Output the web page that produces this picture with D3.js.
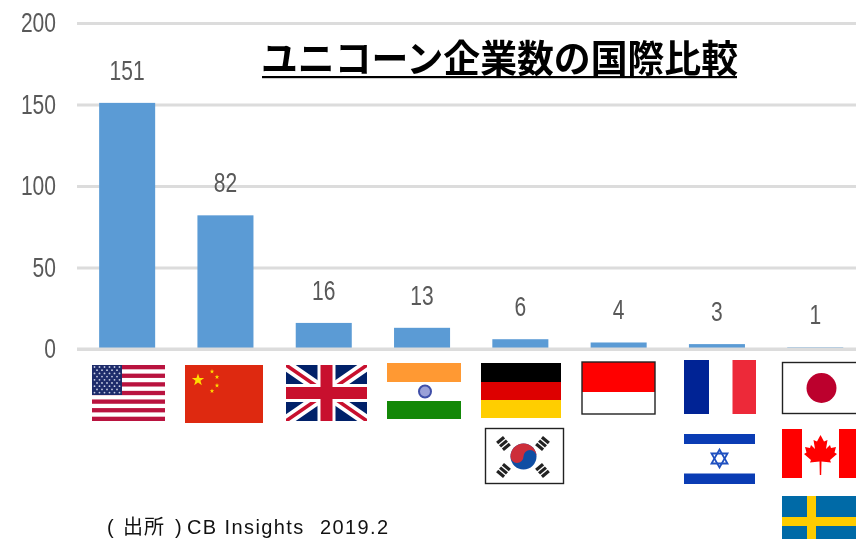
<!DOCTYPE html>
<html lang="ja">
<head>
<meta charset="utf-8">
<script src="https://cdn.jsdelivr.net/npm/d3@7"></script>
<style>
  html, body { margin: 0; padding: 0; background: #fff; overflow: hidden; }
  svg { display: block; filter: blur(0.45px); }
  .axis path { display: none; }
  .axis line, .base { stroke: #dcdcdc; stroke-width: 3; }
  .axis text, .cifras { font-family: "Liberation Sans", sans-serif; font-size: 27px; fill: #595959; }
  .cifras { text-anchor: middle; }
  .titulo { font-family: "Noto Sans CJK JP", sans-serif; font-weight: 700; font-size: 37.5px; fill: #000; }
  .fuente { font-family: "Liberation Sans", sans-serif; font-size: 20px; fill: #111; letter-spacing: 1.4px; }
  .fuente .cjk { font-family: "Noto Sans CJK JP", sans-serif; letter-spacing: 0.9px; }
</style>
</head>
<body>
<div id="chart-area"></div>
<script>
// datos
var countries = ["US", "CN", "GB", "IN", "DE", "ID", "FR", "JP"];
var counts = [151, 82, 16, 13, 6, 4, 3, 1];
var yTicks = [0, 50, 100, 150, 200];
var titleText = "ユニコーン企業数の国際比較";

var width = 856, height = 539;
var margin = {top: 23, right: 0, bottom: 190, left: 77};
var plotH = height - margin.top - margin.bottom;
var digitWidth = 11.7; // los numeros del original son estrechos

var xScale = d3.scaleBand()
    .domain(countries)
    .range([78, 78 + 98.3 * countries.length])
    .paddingInner(0.43)
    .paddingOuter(0.215);

var yScale = d3.scaleLinear()
    .domain([0, 200])
    .range([margin.top + plotH, margin.top]);

var svg = d3.select("#chart-area").append("svg")
    .attr("width", width)
    .attr("height", height);

// Eje con rejilla
var leftAxis = d3.axisLeft(yScale)
    .tickValues(yTicks)
    .tickSize(-(width - margin.left))
    .tickPadding(21);

svg.append("g")
    .attr("class", "axis")
    .attr("transform", "translate(" + margin.left + ",0)")
    .call(leftAxis)
    .selectAll("text")
    .attr("textLength", function(d) { return String(d).length * digitWidth; })
    .attr("lengthAdjust", "spacingAndGlyphs");

// Barras
svg.selectAll("rect.barra")
    .data(counts)
    .enter()
    .append("rect")
    .attr("class", "barra")
    .attr("x", function(d, i) { return xScale(countries[i]); })
    .attr("y", function(d) { return yScale(d); })
    .attr("width", xScale.bandwidth())
    .attr("height", function(d) { return yScale(0) - yScale(d); })
    .attr("fill", "#5b9bd5");

// La linea del 0 va por encima de las barras
svg.append("line")
    .attr("class", "base")
    .attr("x1", margin.left)
    .attr("x2", width)
    .attr("y1", yScale(0))
    .attr("y2", yScale(0));

// Cifras
svg.selectAll(".cifras")
    .data(counts)
    .enter()
    .append("text")
    .attr("class", "cifras")
    .text(function(d) { return d; })
    .attr("x", function(d, i) { return xScale(countries[i]) + xScale.bandwidth() / 2; })
    .attr("y", function(d) { return yScale(d) - 23; })
    .attr("textLength", function(d) { return String(d).length * digitWidth; })
    .attr("lengthAdjust", "spacingAndGlyphs");

// Titulo y fuente
svg.append("text")
    .attr("class", "titulo")
    .attr("x", 261)
    .attr("y", 72)
    .attr("textLength", 477)
    .attr("lengthAdjust", "spacingAndGlyphs")
    .text(titleText);
svg.append("rect")
    .attr("x", 262).attr("y", 76).attr("width", 475).attr("height", 2.2)
    .attr("fill", "#000");

var fuente = svg.append("text").attr("class", "fuente").attr("y", 534);
fuente.append("tspan").attr("x", 107).text("(");
fuente.append("tspan").attr("x", 123).attr("class", "cjk").text("出所");
fuente.append("tspan").attr("x", 175).text(")");
fuente.append("tspan").attr("x", 187).text("CB Insights");
fuente.append("tspan").attr("x", 320).text("2019.2");

// Banderas
var clipId = 0;
function flag(x, y, w, h) {
    var id = "clip" + (clipId++);
    svg.append("clipPath").attr("id", id)
        .append("rect").attr("width", w).attr("height", h);
    var outer = svg.append("g").attr("transform", "translate(" + x + "," + y + ")");
    var g = outer.append("g").attr("clip-path", "url(#" + id + ")");
    g.box = function(rx, ry, rw, rh, fill) {
        return g.append("rect").attr("x", rx).attr("y", ry).attr("width", rw).attr("height", rh).attr("fill", fill);
    };
    g.frame = function() {
        outer.append("rect").attr("width", w).attr("height", h)
            .attr("fill", "none").attr("stroke", "#222").attr("stroke-width", 1.4);
    };
    return g;
}

function starPath(cx, cy, r) {
    var pts = d3.range(10).map(function(i) {
        var a = -Math.PI / 2 + i * Math.PI / 5, rr = i % 2 ? r * 0.4 : r;
        return [cx + rr * Math.cos(a), cy + rr * Math.sin(a)];
    });
    return "M" + pts.join("L") + "Z";
}

// USA
(function() {
    var w = 73, h = 56, g = flag(92, 365, w, h);
    g.box(0, 0, w, h, "#fff");
    d3.range(13).forEach(function(i) {
        if (i % 2 == 0) g.box(0, i * h / 13, w, h / 13, "#b9133f");
    });
    g.box(0, 0, 30, 30, "#1e2c6b");
    d3.range(9).forEach(function(r) {
        d3.range(r % 2 ? 5 : 6).forEach(function(c) {
            g.append("circle").attr("cx", (r % 2 ? 5 : 2.5) + c * 5).attr("cy", 2 + r * 3.2)
                .attr("r", 0.9).attr("fill", "#c9cfe4");
        });
    });
})();

// China
(function() {
    var g = flag(185, 365, 78, 58);
    g.box(0, 0, 78, 58, "#de2910");
    g.append("path").attr("d", starPath(13, 15, 6.5)).attr("fill", "#ffde00");
    [[27, 6.5], [32, 12], [32, 20.5], [27, 26]].forEach(function(p) {
        g.append("path").attr("d", starPath(p[0], p[1], 2.4)).attr("fill", "#ffde00");
    });
})();

// Reino Unido
(function() {
    var w = 81, h = 56, g = flag(286, 365, w, h);
    g.box(0, 0, w, h, "#012169");
    var diag = "M0,0L" + w + "," + h + "M" + w + ",0L0," + h;
    g.append("path").attr("d", diag).attr("stroke", "#fff").attr("stroke-width", 11);
    g.append("path").attr("d", diag).attr("stroke", "#c8102e").attr("stroke-width", 3.5);
    g.box(w / 2 - 9, 0, 18, h, "#fff");
    g.box(0, h / 2 - 9, w, 18, "#fff");
    g.box(w / 2 - 6, 0, 12, h, "#c8102e");
    g.box(0, h / 2 - 6, w, 12, "#c8102e");
})();

// India
(function() {
    var w = 74, h = 56, g = flag(387, 363, w, h);
    g.box(0, 0, w, 19, "#ff9933");
    g.box(0, 19, w, 19, "#fff");
    g.box(0, 38, w, 18, "#138808");
    g.append("circle").attr("cx", 38).attr("cy", 28.5).attr("r", 6)
        .attr("fill", "#9aa0d8").attr("stroke", "#3f4ea8").attr("stroke-width", 2);
})();

// Alemania
(function() {
    var w = 80, h = 55, g = flag(481, 363, w, h);
    g.box(0, 0, w, 19, "#000");
    g.box(0, 19, w, 18, "#dd0000");
    g.box(0, 37, w, 18, "#ffce00");
})();

// Indonesia
(function() {
    var w = 73, h = 52, g = flag(582, 362, w, h);
    g.box(0, 0, w, h, "#fff");
    g.box(0, 0, w, 30, "#ff0000");
    g.frame();
})();

// Francia
(function() {
    var w = 72, h = 54, g = flag(684, 360, w, h);
    g.box(0, 0, w, h, "#fff");
    g.box(0, 0, 25, h, "#002395");
    g.box(48.5, 0, 23.5, h, "#ed2939");
})();

// Japon
(function() {
    var w = 76, h = 51, g = flag(782.5, 362.5, w, h);
    g.box(0, 0, w, h, "#fff");
    g.append("circle").attr("cx", 39).attr("cy", 25.5).attr("r", 15).attr("fill", "#bc002d");
    g.frame();
})();

// Corea
(function() {
    var w = 78, h = 55, g = flag(485.5, 428.5, w, h);
    g.box(0, 0, w, h, "#fff");
    var cx = 38, cy = 28, r = 13;
    g.append("circle").attr("cx", cx).attr("cy", cy).attr("r", r).attr("fill", "#0f4ea3");
    g.append("path")
        .attr("d", "M" + (cx - r) + "," + cy + "A" + r + "," + r + " 0 0 1 " + (cx + r) + "," + cy
            + "A" + (r / 2) + "," + (r / 2) + " 0 0 0 " + cx + "," + cy
            + "A" + (r / 2) + "," + (r / 2) + " 0 0 1 " + (cx - r) + "," + cy + "Z")
        .attr("fill", "#cd2e3a");
    [[18, 15, -40], [57, 15, 40], [18, 42, 40], [57, 42, -40]].forEach(function(t) {
        var tri = g.append("g").attr("transform", "translate(" + t[0] + "," + t[1] + ") rotate(" + t[2] + ")");
        [-4.5, 0, 4.5].forEach(function(dy) {
            tri.append("rect").attr("x", -4.5).attr("y", dy - 1.6).attr("width", 9).attr("height", 3.2).attr("fill", "#222");
        });
    });
    g.frame();
})();

// Israel
(function() {
    var w = 71, h = 50, g = flag(684, 434, w, h);
    g.box(0, 0, w, h, "#fff");
    g.box(0, 0, w, 10, "#0a3cb4");
    g.box(0, 39.5, w, 10.5, "#0a3cb4");
    [[0, -9, 8, 5, -8, 5], [0, 9, 8, -5, -8, -5]].forEach(function(p) {
        g.append("path")
            .attr("d", "M" + (35.5 + p[0]) + "," + (24.5 + p[1]) + "L" + (35.5 + p[2]) + "," + (24.5 + p[3]) + "L" + (35.5 + p[4]) + "," + (24.5 + p[5]) + "Z")
            .attr("fill", "none").attr("stroke", "#1f50c0").attr("stroke-width", 1.8);
    });
})();

// Canada
(function() {
    var w = 76, h = 49, g = flag(782, 429, w, h);
    g.box(0, 0, w, h, "#fff");
    g.box(0, 0, 20, h, "#ff0000");
    g.box(57, 0, 19, h, "#ff0000");
    var leaf = "M38.5,6 L42,12.5 L45.5,11 L44,20 L48,16 L49,19 L54,18 L52.5,23.5 L55,25 L48,31 L49,33.5 "
        + "L39.5,32.5 L39.2,46 L37.8,46 L37.5,32.5 L28,33.5 L29,31 L22,25 L24.5,23.5 L23,18 L28,19 L29,16 L33,20 L31.5,11 L35,12.5 Z";
    g.append("path").attr("d", leaf).attr("fill", "#ff0000");
})();

// Suecia
(function() {
    var w = 76, h = 50, g = flag(782, 496, w, h);
    g.box(0, 0, w, h, "#006aa7");
    g.box(25, 0, 9, h, "#fecc00");
    g.box(0, 21, w, 9, "#fecc00");
})();
</script>
</body>
</html>
